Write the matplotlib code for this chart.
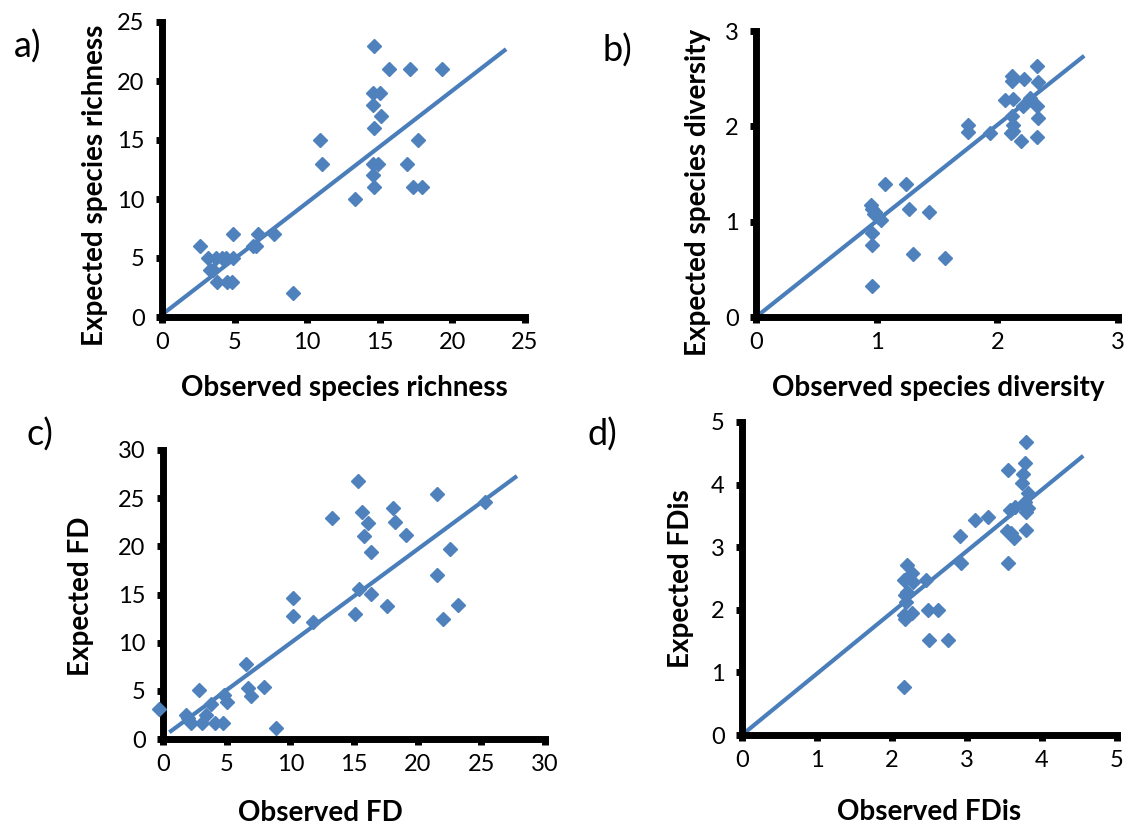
import matplotlib
matplotlib.use("Agg")
import matplotlib.pyplot as plt

plt.rcParams['font.family'] = ['Lato', 'DejaVu Sans']

# a) species richness
rich_obs = [14.6, 15.6, 17.1, 19.3, 14.5, 15.0, 14.5, 15.1, 14.6, 10.9, 17.6, 11.0,
            14.5, 14.9, 16.9, 14.5, 14.6, 17.3, 17.9, 13.3, 4.9, 6.6, 7.7, 2.6,
            6.3, 6.5, 3.2, 3.7, 4.1, 4.4, 4.9, 3.3, 3.5, 3.8, 4.5, 4.8, 9.0]
rich_exp = [23, 21, 21, 21, 19, 19, 18, 17, 16, 15, 15, 13,
            13, 13, 13, 12, 11, 11, 11, 10, 7, 7, 7, 6,
            6, 6, 5, 5, 5, 5, 5, 4, 4, 3, 3, 3, 2]
rich_line_x = [0, 23.7]
rich_line_y = [0.2, 22.7]

# b) species diversity
div_obs = [2.33, 2.12, 2.12, 2.22, 2.34, 2.06, 2.13, 2.21, 2.27, 2.33, 2.12, 2.34,
           1.76, 1.76, 1.94, 2.13, 2.11, 2.13, 2.20, 2.33, 1.07, 1.24, 0.95, 0.96,
           0.98, 1.01, 1.04, 0.99, 1.27, 1.43, 0.96, 0.96, 1.30, 1.57, 0.96]
div_exp = [2.63, 2.53, 2.48, 2.50, 2.47, 2.28, 2.29, 2.21, 2.30, 2.21, 2.11, 2.09,
           2.01, 1.94, 1.93, 2.01, 1.93, 1.95, 1.85, 1.89, 1.39, 1.39, 1.18, 1.13,
           1.08, 1.05, 1.02, 1.10, 1.13, 1.10, 0.88, 0.76, 0.66, 0.62, 0.33]
div_line_x = [0, 2.72]
div_line_y = [0, 2.74]

# c) FD
fd_obs = [15.35, 21.5, 15.6, 18.1, 25.3, 13.3, 16.1, 18.2, 15.8, 19.1, 16.3, 22.5,
          21.5, 15.4, 16.3, 17.6, 23.2, 22.0, 15.1, 10.2, 10.2, 11.8, 6.5, 2.8,
          6.7, 6.95, 7.9, 4.8, 5.0, 3.8, -0.3, 1.8, 2.2, 2.0, 3.4, 3.1, 4.1,
          4.7, 8.9]
fd_exp = [26.8, 25.4, 23.6, 24.0, 24.6, 22.9, 22.4, 22.5, 21.1, 21.2, 19.4, 19.7,
          17.0, 15.6, 15.1, 13.8, 13.9, 12.5, 13.0, 14.6, 12.8, 12.1, 7.8, 5.1,
          5.3, 4.5, 5.4, 4.6, 3.8, 3.6, 3.1, 2.5, 1.7, 2.2, 2.5, 1.7, 1.7,
          1.7, 1.1]
fd_line_x = [0.5, 27.8]
fd_line_y = [0.7, 27.3]

# d) FDis
fdis_obs = [3.78, 3.77, 3.55, 3.75, 3.73, 3.81, 3.77, 3.81, 3.79, 3.75, 3.57, 3.64,
            3.10, 3.28, 2.90, 3.53, 3.59, 3.62, 3.78, 2.92, 3.55, 2.20, 2.26, 2.28,
            2.16, 2.45, 2.20, 2.17, 2.19, 2.26, 2.16, 2.17, 2.48, 2.61, 2.49, 2.74,
            2.16]
fdis_exp = [4.68, 4.34, 4.24, 4.17, 4.02, 3.87, 3.73, 3.63, 3.56, 3.68, 3.60, 3.64,
            3.43, 3.48, 3.18, 3.26, 3.23, 3.15, 3.28, 2.75, 2.74, 2.72, 2.58, 2.45,
            2.48, 2.47, 2.29, 2.24, 2.13, 1.95, 1.92, 1.85, 2.00, 2.00, 1.51, 1.51,
            0.77]
fdis_line_x = [0.04, 4.55]
fdis_line_y = [0.04, 4.46]

W, H = 1125, 825
blue = '#4F81BD'
line_blue = '#4A7EBB'


def px(x, y):
    return x / W, 1 - y / H


def make_panel(rect, xs, ys, lx, ly, xmax, ymax, step):
    l, t, r, b = rect
    ax = fig.add_axes([l / W, 1 - b / H, (r - l) / W, (b - t) / H])
    ax.plot(lx, ly, color=line_blue, lw=3, solid_capstyle='butt', clip_on=False)
    ax.plot(xs, ys, 'D', color=blue, ms=7.5, mec=blue, clip_on=False, zorder=3)
    ax.set_xlim(0, xmax)
    ax.set_ylim(0, ymax)
    ticks_x = [i * step[0] for i in range(int(round(xmax / step[0])) + 1)]
    ticks_y = [i * step[1] for i in range(int(round(ymax / step[1])) + 1)]
    ax.set_xticks(ticks_x)
    ax.set_yticks(ticks_y)
    for s in ['top', 'right']:
        ax.spines[s].set_visible(False)
    for s in ['left', 'bottom']:
        ax.spines[s].set_linewidth(5)
        ax.spines[s].set_capstyle('projecting')
    ax.tick_params(direction='out', length=4.5, width=5, labelsize=17, pad=6,
                   colors='black')
    ax.tick_params(axis='y', pad=8)
    return ax


fig = plt.figure(figsize=(11.25, 8.25), dpi=100)

make_panel((162, 22, 525, 317), rich_obs, rich_exp, rich_line_x, rich_line_y, 25, 25, (5, 5))
make_panel((756, 31, 1118, 317), div_obs, div_exp, div_line_x, div_line_y, 3, 3, (1, 1))
make_panel((163, 450, 545, 739), fd_obs, fd_exp, fd_line_x, fd_line_y, 30, 30, (5, 5))
make_panel((742, 422, 1117, 735), fdis_obs, fdis_exp, fdis_line_x, fdis_line_y, 5, 5, (1, 1))

lab = dict(fontsize=20, fontweight='bold', ha='center', va='center')
fig.text(*px(344, 388), 'Observed species richness', **lab)
fig.text(*px(95, 185), 'Expected species richness', rotation=90, **lab)
fig.text(*px(938, 388), 'Observed species diversity', **lab)
fig.text(*px(698, 192), 'Expected species diversity', rotation=90, **lab)
fig.text(*px(320, 813), 'Observed FD', **lab)
fig.text(*px(81, 596), 'Expected FD', rotation=90, **lab)
fig.text(*px(929, 812), 'Observed FDis', **lab)
fig.text(*px(681, 579), 'Expected FDis', rotation=90, **lab)

let = dict(fontsize=26, ha='center', va='center')
fig.text(*px(28, 47), 'a)', **let)
fig.text(*px(617, 51), 'b)', **let)
fig.text(*px(40, 435), 'c)', **let)
fig.text(*px(602, 435), 'd)', **let)

fig.savefig('out.png', dpi=100)
